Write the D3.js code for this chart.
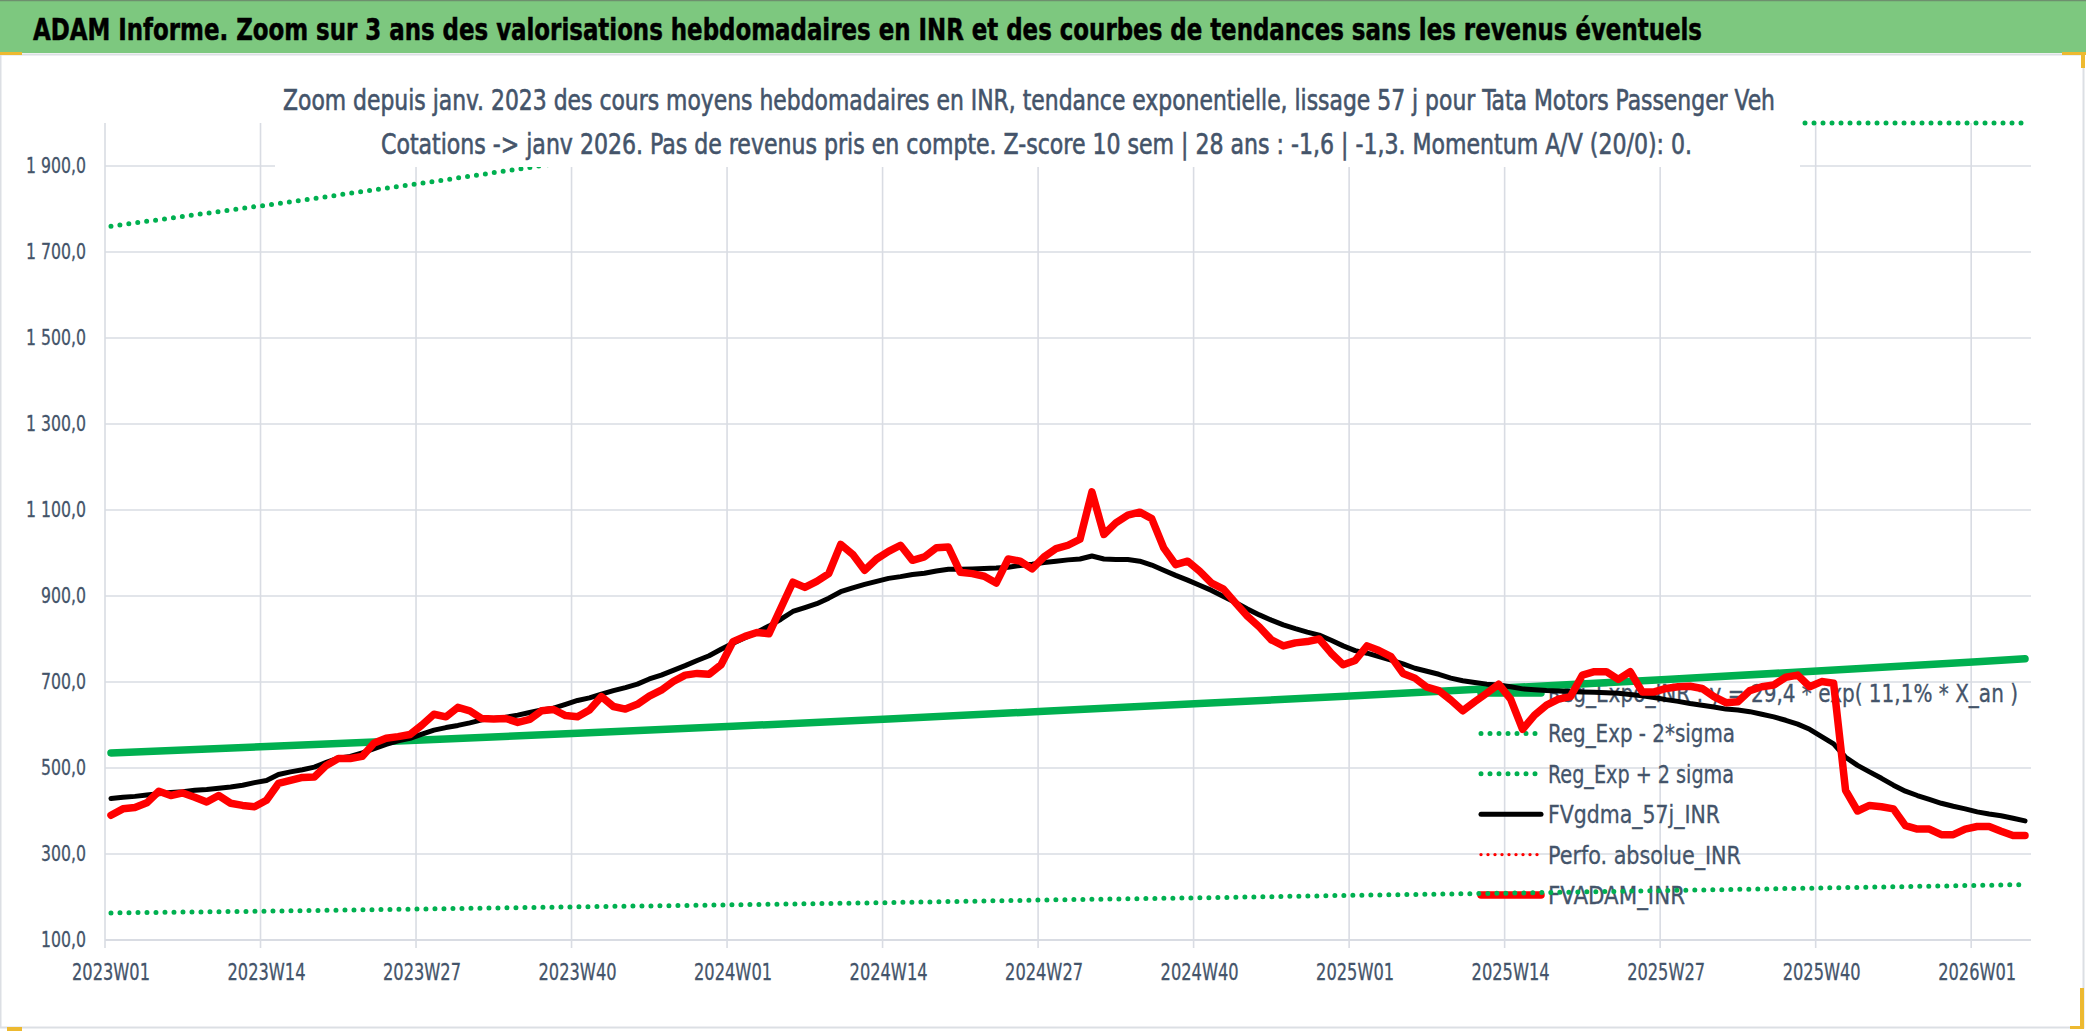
<!DOCTYPE html>
<html><head><meta charset="utf-8">
<script src="https://cdn.jsdelivr.net/npm/d3@7/dist/d3.min.js"></script>
<style>
html,body{margin:0;padding:0;background:#fff;}
svg{display:block;}
text{font-family:"Liberation Sans Narrow","Arial Narrow","DejaVu Sans Condensed",sans-serif;}
</style></head>
<body>
<script>
// ---------- DATA ----------
const years = [2023, 2024, 2025];
const weeks = [];
years.forEach(yr => { for (let w = 1; w <= 52; w++) weeks.push(yr + "W" + String(w).padStart(2, "0")); });
for (let w = 1; w <= 5; w++) weeks.push("2026W" + String(w).padStart(2, "0"));

const xTickLabels = ["2023W01","2023W14","2023W27","2023W40","2024W01","2024W14","2024W27","2024W40","2025W01","2025W14","2025W27","2025W40","2026W01"];
const yTicks = [100,300,500,700,900,1100,1300,1500,1700,1900];

// FVADAM_INR (weekly average price, INR)
const fvadam = [
 390,405,408,419,446,436,442,432,421,436,418,413,410,425,464,471,478,479,506,522,
 522,527,558,569,573,578,600,625,619,641,633,615,614,615,606,613,633,636,622,619,
 635,666,643,637,648,667,681,701,716,720,718,740,794,806,815,812,872,932,920,934,
 952,1020,997,960,986,1004,1018,983,991,1012,1014,955,952,946,930,986,981,963,991,1010,
 1018,1032,1142,1043,1070,1088,1095,1080,1012,973,981,958,930,916,884,853,828,798,784,791,
 794,800,767,740,750,784,773,759,720,709,688,680,658,633,654,674,695,660,590,623,
 646,660,666,716,724,724,706,724,677,677,685,689,690,685,666,652,654,680,689,693,
 711,716,689,701,697,448,400,413,410,405,366,358,358,345,345,358,364,364,353,343,
 343
];
// FVgdma_57j_INR (57-day smoothing)
const fvgdma = [
 429,432,434,437,440,443,445,448,450,453,456,460,466,471,485,491,496,502,513,523,
 527,535,545,555,563,569,579,588,594,599,605,612,615,618,623,629,635,639,648,657,
 663,672,680,687,695,707,716,727,738,750,761,776,790,803,816,830,846,864,873,882,
 895,910,919,927,934,941,945,950,953,958,962,962,963,964,965,967,971,974,978,981,
 984,986,993,986,985,985,981,972,960,948,937,925,913,899,885,870,856,844,833,824,
 816,809,797,784,773,767,759,751,742,732,725,718,709,703,699,695,693,689,684,682,
 680,679,678,677,676,675,674,671,668,664,659,655,650,646,642,637,635,631,625,619,
 611,602,590,573,556,525,506,491,476,460,446,436,427,418,411,405,398,393,389,383,
 377
];
// Exponential regression and ±2 sigma bands, read at 13-week steps
const trendWeeks = ["2023W01","2023W14","2023W27","2023W40","2024W01","2024W14","2024W27","2024W40","2025W01","2025W14","2025W27","2025W40","2026W01","2026W05"];
const regExpo   = [535,550,565,581,597,614,632,650,668,687,706,726,747,754];
const regMinus2 = [163,167,172,177,182,187,193,198,204,209,215,221,227,229];
const regPlus2  = [1760,1809,1860,1913,1966,2022,2078,2137,2197,2258,2322,2387,2454,2475];
const perfoAbsolue = []; // not visible in the displayed range

const legendLabels = ["Reg_Expo_INR : y = 29,4 * exp( 11,1% *  X_an )","Reg_Exp - 2*sigma","Reg_Exp + 2 sigma","FVgdma_57j_INR","Perfo. absolue_INR","FVADAM_INR"];

const titleText = "ADAM Informe. Zoom sur 3 ans des valorisations hebdomadaires en INR et des courbes de tendances sans les revenus éventuels";
const sub1 = "Zoom depuis janv. 2023 des cours moyens hebdomadaires en INR, tendance exponentielle, lissage 57 j pour Tata Motors Passenger Veh";
const sub2 = "Cotations -> janv 2026. Pas de revenus pris en compte. Z-score 10 sem | 28 ans : -1,6 | -1,3. Momentum A/V (20/0): 0.";

// ---------- CHART ----------
const W = 2086, H = 1031;
const FONT = '"Liberation Sans Narrow","Arial Narrow","DejaVu Sans Condensed",sans-serif';
const svg = d3.select("body").append("svg").attr("width", W).attr("height", H);
svg.append("rect").attr("width", W).attr("height", H).attr("fill", "#fff");

const L = 105, R = 2031, T = 123, B = 940;
const x = d3.scaleBand().domain(weeks).range([L, R]).padding(0);
const xc = d => x(d) + x.bandwidth() / 2;
const y = d3.scaleLinear().domain([100, 2000]).range([B, T]).clamp(true);

const gridCol = "#D9DCE3", txtCol = "#44546A";
const fr = d3.formatLocale({decimal: ",", thousands: " ", grouping: [3], currency: ["", ""]});
const fmt = fr.format(",.1f");

// squeeze helper: set text width relative to a reference width
function fitWidth(sel, refText, refWidth) {
  const probe = svg.append("text").attr("font-size", sel.attr("font-size")).attr("font-family", FONT).text(refText);
  const w0 = probe.node().getComputedTextLength();
  probe.remove();
  const k = refWidth / w0;
  sel.each(function () {
    const w = this.getComputedTextLength();
    d3.select(this).attr("textLength", w * k).attr("lengthAdjust", "spacingAndGlyphs");
  });
}

// horizontal gridlines
svg.append("g").selectAll("line").data(yTicks.slice(1)).join("line")
  .attr("x1", L).attr("x2", R).attr("y1", d => y(d)).attr("y2", d => y(d))
  .attr("stroke", gridCol).attr("stroke-width", 1.6);
// vertical gridlines at category boundaries (every 13 weeks) + ticks below axis
svg.append("g").selectAll("line").data(xTickLabels).join("line")
  .attr("x1", d => x(d)).attr("x2", d => x(d)).attr("y1", T).attr("y2", B + 8)
  .attr("stroke", gridCol).attr("stroke-width", 1.6);
// bottom axis line
svg.append("line").attr("x1", L).attr("x2", R).attr("y1", B).attr("y2", B)
  .attr("stroke", gridCol).attr("stroke-width", 1.8);

// axes labels
const yAxis = svg.append("g").attr("transform", `translate(${L - 19},0)`)
  .call(d3.axisLeft(y).tickValues(yTicks).tickFormat(fmt).tickSize(0).tickPadding(0));
yAxis.select(".domain").remove();
const yLab = yAxis.selectAll("text").attr("fill", txtCol).attr("font-size", 21).attr("font-family", FONT)
  .attr("stroke", txtCol).attr("stroke-width", 0.3);
fitWidth(yLab, "100,0", 45);

const xAxis = svg.append("g").attr("transform", `translate(0,${B})`)
  .call(d3.axisBottom(x).tickValues(xTickLabels).tickSize(0).tickPadding(24));
xAxis.select(".domain").remove();
const xLab = xAxis.selectAll("text").attr("fill", txtCol).attr("font-size", 23).attr("font-family", FONT)
  .attr("stroke", txtCol).attr("stroke-width", 0.3);
fitWidth(xLab, "2023W01", 78);

// legend (drawn beneath series, like the original)
const legY0 = 693, legDy = 40.4, legX1 = 1481, legX2 = 1541;
const legWidths = [470, 187, 186, 172, 193, 137];
const legStyles = [
  {c: "#00B050", w: 7.5, dash: null},
  {c: "#00B050", w: 5, dash: "0 9"},
  {c: "#00B050", w: 5, dash: "0 9"},
  {c: "#000", w: 5, dash: null},
  {c: "#FF0000", w: 3.4, dash: "0 7"},
  {c: "#FF0000", w: 7.5, dash: null}
];
const leg = svg.append("g");
legendLabels.forEach((lab, i) => {
  const yy = legY0 + i * legDy;
  const s = legStyles[i];
  leg.append("line").attr("x1", legX1).attr("x2", legX2).attr("y1", yy).attr("y2", yy)
    .attr("stroke", s.c).attr("stroke-width", s.w).attr("stroke-linecap", "round")
    .attr("stroke-dasharray", s.dash);
  leg.append("text").attr("x", 1548).attr("y", yy + 9).attr("fill", txtCol)
    .attr("stroke", txtCol).attr("stroke-width", 0.3)
    .attr("font-size", 24.5).attr("textLength", legWidths[i]).attr("lengthAdjust", "spacingAndGlyphs").text(lab);
});

// series
const line = d3.line().x(d => xc(d[0])).y(d => y(d[1]));
const pairs = (ks, vs) => ks.map((k, i) => [k, vs[i]]);

svg.append("path").datum(pairs(trendWeeks, regExpo)).attr("d", line)
  .attr("fill", "none").attr("stroke", "#00B050").attr("stroke-width", 7.5).attr("stroke-linecap", "round");
svg.append("path").datum(pairs(trendWeeks, regMinus2)).attr("d", line)
  .attr("fill", "none").attr("stroke", "#00B050").attr("stroke-width", 5)
  .attr("stroke-dasharray", "0 9").attr("stroke-linecap", "round");
svg.append("path").datum(pairs(trendWeeks, regPlus2)).attr("d", line)
  .attr("fill", "none").attr("stroke", "#00B050").attr("stroke-width", 5)
  .attr("stroke-dasharray", "0 9").attr("stroke-linecap", "round");
svg.append("path").datum(pairs(weeks, fvgdma)).attr("d", line)
  .attr("fill", "none").attr("stroke", "#000").attr("stroke-width", 5)
  .attr("stroke-linejoin", "round").attr("stroke-linecap", "round");
if (perfoAbsolue.length) svg.append("path").datum(pairs(weeks, perfoAbsolue)).attr("d", line)
  .attr("fill", "none").attr("stroke", "#FF0000").attr("stroke-width", 3).attr("stroke-dasharray", "0 7");
svg.append("path").datum(pairs(weeks, fvadam)).attr("d", line)
  .attr("fill", "none").attr("stroke", "#FF0000").attr("stroke-width", 7.5)
  .attr("stroke-linejoin", "round").attr("stroke-linecap", "round");

// subtitle box (white background, overlapping the top of plot)
svg.append("rect").attr("x", 275).attr("y", 60).attr("width", 1525).attr("height", 107).attr("fill", "#fff");
svg.append("text").attr("x", 283).attr("y", 110).attr("fill", txtCol).attr("font-size", 29)
  .attr("stroke", txtCol).attr("stroke-width", 0.6)
  .attr("textLength", 1492).attr("lengthAdjust", "spacingAndGlyphs").text(sub1);
svg.append("text").attr("x", 381).attr("y", 154).attr("fill", txtCol).attr("font-size", 29)
  .attr("stroke", txtCol).attr("stroke-width", 0.6)
  .attr("textLength", 1311).attr("lengthAdjust", "spacingAndGlyphs").text(sub2);

// chart frame
svg.append("rect").attr("x", 0.5).attr("y", 54.5).attr("width", 2083).attr("height", 973)
  .attr("fill", "none").attr("stroke", "#DCDFE4").attr("stroke-width", 2);

// header bar
svg.append("rect").attr("x", 0).attr("y", 0).attr("width", W).attr("height", 53).attr("fill", "#7DC87F");
svg.append("line").attr("x1", 0).attr("x2", W).attr("y1", 0.5).attr("y2", 0.5).attr("stroke", "#6E8F6E").attr("stroke-width", 1.5);
svg.append("text").attr("x", 33).attr("y", 40).attr("fill", "#000").attr("font-size", 30.5)
  .attr("font-weight", "bold").attr("stroke", "#000").attr("stroke-width", 0.5)
  .attr("textLength", 1669).attr("lengthAdjust", "spacingAndGlyphs").text(titleText);

// selection corner marks
const gold = "#EDB930";
[[0, 52, 22, 3], [2062, 52, 24, 3], [2081, 52, 4, 16], [7, 1027, 15, 4], [2080, 988, 4, 40], [2070, 1026, 14, 3]]
  .forEach(r => svg.append("rect").attr("x", r[0]).attr("y", r[1]).attr("width", r[2]).attr("height", r[3]).attr("fill", gold));
</script>
</body></html>
